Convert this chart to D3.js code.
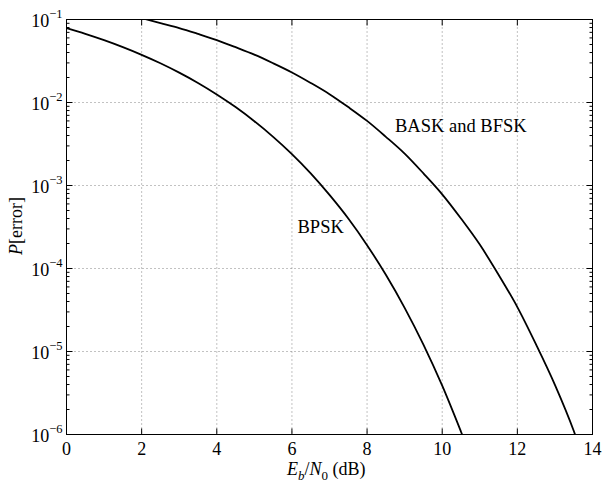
<!DOCTYPE html>
<html>
<head>
<meta charset="utf-8">
<script src="https://cdn.jsdelivr.net/npm/d3@7"></script>
<style>
  body { margin: 0; background: #fff; }
</style>
</head>
<body>
<div id="chart"></div>
<script>
// Eb/N0 in dB and error probability
var bpskX = [0, 0.5, 1, 1.5, 2, 2.5, 3, 3.5, 4, 4.5, 5, 5.5, 6, 6.5, 7, 7.5, 8, 8.5, 9, 9.5, 10, 10.5, 10.6];
var bpskY = [0.0786, 0.0671, 0.0563, 0.0464, 0.0375, 0.0297, 0.0229, 0.0172, 0.0125, 0.0088,
             0.00595, 0.00386, 0.00239, 0.0014, 7.7e-4, 4.0e-4, 1.91e-4, 8.4e-5, 3.36e-5,
             1.21e-5, 3.87e-6, 1.08e-6, 8.3e-7];
var baskX = [2, 2.5, 3, 3.5, 4, 4.5, 5, 5.5, 6, 6.5, 7, 7.5, 8, 8.5, 9, 9.5, 10, 10.5, 11, 11.5,
             12, 12.5, 13, 13.5, 13.6];
var baskY = [0.104, 0.0905, 0.0789, 0.0671, 0.0565, 0.0464, 0.0377, 0.0297, 0.0230, 0.0172,
             0.0126, 0.0088, 0.0060, 0.00386, 0.00242, 0.0014, 7.83e-4, 4.0e-4, 1.94e-4,
             8.4e-5, 3.43e-5, 1.21e-5, 3.97e-6, 1.11e-6, 8.3e-7];
var xTicks = [0, 2, 4, 6, 8, 10, 12, 14];
var yExps = [-1, -2, -3, -4, -5, -6];

var width = 602, height = 481;
var margin = {left: 66.5, right: 9.5, top: 19.5, bottom: 46.5};
var w = width - margin.left - margin.right,
    h = height - margin.top - margin.bottom;
var serif = "'Liberation Serif', 'DejaVu Serif', serif";

var svg = d3.select("#chart").append("svg")
    .attr("width", width)
    .attr("height", height)
    .attr("font-family", serif);

var x = d3.scaleLinear().domain([0, 14]).range([0, w]);
var y = d3.scaleLog().domain([1e-6, 1e-1]).range([h, 0]);

svg.append("defs").append("clipPath").attr("id", "clip")
    .append("rect").attr("width", w).attr("height", h);

var g = svg.append("g").attr("transform", "translate(" + margin.left + "," + margin.top + ")");

// dotted grid
g.selectAll(".vgrid")
    .data(xTicks.slice(1, -1))
    .enter().append("line")
    .attr("x1", function(d) { return x(d); })
    .attr("x2", function(d) { return x(d); })
    .attr("y1", 0).attr("y2", h)
    .attr("stroke", "#666").attr("stroke-width", 0.8)
    .attr("stroke-dasharray", "1,3");

g.selectAll(".hgrid")
    .data(yExps.slice(1, -1))
    .enter().append("line")
    .attr("y1", function(d) { return y(Math.pow(10, d)); })
    .attr("y2", function(d) { return y(Math.pow(10, d)); })
    .attr("x1", 0).attr("x2", w)
    .attr("stroke", "#666").attr("stroke-width", 0.8)
    .attr("stroke-dasharray", "1,3");

// inward ticks on all four sides
var minor = [];
yExps.slice(1).forEach(function(e) {
    for (var k = 2; k < 10; k++) minor.push(k * Math.pow(10, e));
});
var major = yExps.map(function(e) { return Math.pow(10, e); });

function yTicks(x0, dir) {
    g.selectAll(null).data(major).enter().append("line")
        .attr("x1", x0).attr("x2", x0 + dir * 6)
        .attr("y1", function(d) { return y(d); }).attr("y2", function(d) { return y(d); })
        .attr("stroke", "#000");
    g.selectAll(null).data(minor).enter().append("line")
        .attr("x1", x0).attr("x2", x0 + dir * 3)
        .attr("y1", function(d) { return y(d); }).attr("y2", function(d) { return y(d); })
        .attr("stroke", "#000");
}
yTicks(0, 1);
yTicks(w, -1);

g.selectAll(null).data(xTicks).enter().append("line")
    .attr("x1", function(d) { return x(d); }).attr("x2", function(d) { return x(d); })
    .attr("y1", h).attr("y2", h - 6).attr("stroke", "#000");
g.selectAll(null).data(xTicks).enter().append("line")
    .attr("x1", function(d) { return x(d); }).attr("x2", function(d) { return x(d); })
    .attr("y1", 0).attr("y2", 6).attr("stroke", "#000");

// box
g.append("rect").attr("width", w).attr("height", h)
    .attr("fill", "none").attr("stroke", "#000").attr("stroke-width", 1);

// curves
var line = d3.line()
    .x(function(d) { return x(d[0]); })
    .y(function(d) { return y(d[1]); })
    .curve(d3.curveMonotoneX);

[[bpskX, bpskY], [baskX, baskY]].forEach(function(s) {
    g.append("path")
        .datum(d3.zip(s[0], s[1]))
        .attr("clip-path", "url(#clip)")
        .attr("fill", "none")
        .attr("stroke", "#000")
        .attr("stroke-width", 1.8)
        .attr("d", line);
});

// tick labels
g.selectAll(".xl").data(xTicks).enter().append("text")
    .attr("x", function(d) { return x(d); })
    .attr("y", h + 20)
    .attr("text-anchor", "middle")
    .attr("font-size", 18)
    .text(function(d) { return d; });

var yl = g.selectAll(".yl").data(yExps).enter().append("text")
    .attr("x", -4)
    .attr("y", function(d) { return y(Math.pow(10, d)) + 7.5; })
    .attr("text-anchor", "end")
    .attr("font-size", 18);
yl.append("tspan").text("10");
yl.append("tspan").attr("dy", -9).attr("font-size", 12.5)
    .text(function(d) { return "\u2212" + (-d); });

// series labels
g.append("text").attr("x", 395 - margin.left).attr("y", 131.5 - margin.top)
    .attr("font-size", 18.5).text("BASK and BFSK");
g.append("text").attr("x", 297.5 - margin.left).attr("y", 233 - margin.top)
    .attr("font-size", 18.5).text("BPSK");

// axis titles
var xt = svg.append("text").attr("x", 287).attr("y", 474.5).attr("font-size", 18);
xt.append("tspan").attr("font-style", "italic").text("E");
xt.append("tspan").attr("dy", 5).attr("font-size", 13).attr("font-style", "italic").text("b");
xt.append("tspan").attr("dy", -5).text("/");
xt.append("tspan").attr("font-style", "italic").text("N");
xt.append("tspan").attr("dy", 5).attr("font-size", 13).text("0");
xt.append("tspan").attr("dy", -5).text(" (dB)");

var yt = svg.append("text")
    .attr("transform", "translate(21.5,226) rotate(-90)")
    .attr("text-anchor", "middle")
    .attr("font-size", 18);
yt.append("tspan").attr("font-style", "italic").text("P");
yt.append("tspan").text("[error]");
</script>
</body>
</html>
